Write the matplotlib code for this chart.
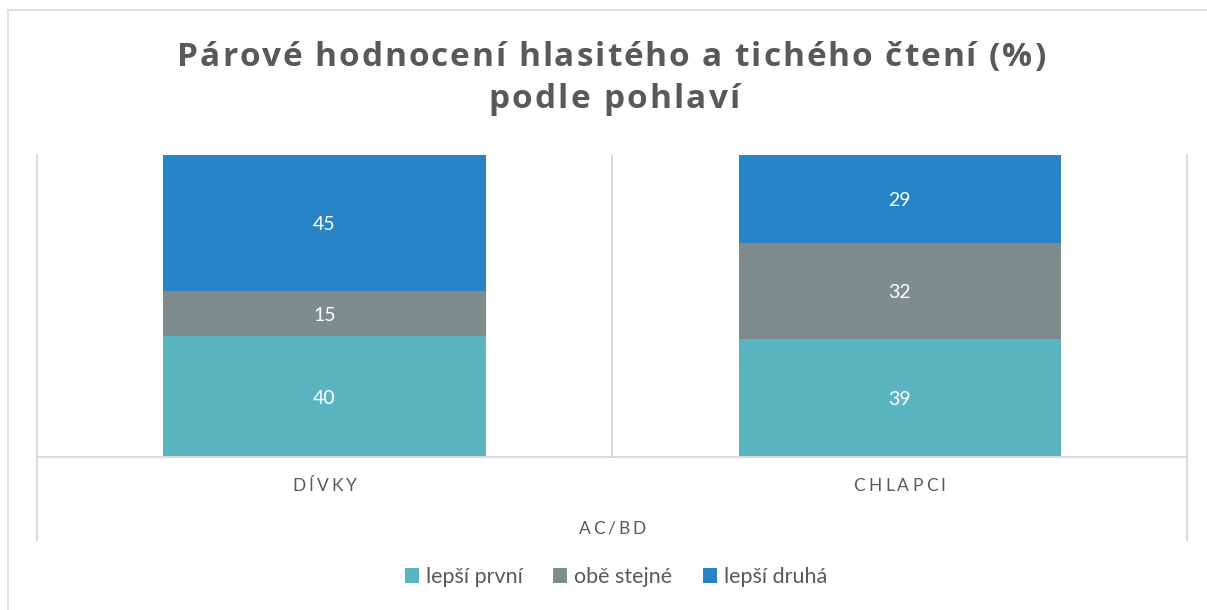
import matplotlib
matplotlib.use('Agg')
import matplotlib.pyplot as plt
from matplotlib.font_manager import FontProperties, findfont, get_font
from matplotlib.patches import Patch
from matplotlib.lines import Line2D

W, H, DPI = 1207, 610, 100

# ---- data ----
categories = ['DÍVKY', 'CHLAPCI']
series_names = ['lepší první', 'obě stejné', 'lepší druhá']
lepsi_prvni = [40, 39]
obe_stejne = [15, 32]
lepsi_druha = [45, 29]
axis_title = 'AC/BD'
title_lines = ['Párové hodnocení hlasitého a tichého čtení (%)', 'podle pohlaví']

colors = ['#5BB5C0', '#7F8C8D', '#2683C6']
TXT = '#595959'
GRID = '#D9D9D9'
FAM = ['Lato', 'DejaVu Sans']

plt.rcParams['font.family'] = FAM

fig = plt.figure(figsize=(W / DPI, H / DPI), dpi=DPI)

# outer chart border (right/bottom edges fall outside the picture)
fig.add_artist(Line2D([8 / W, 1.01], [1 - 10 / H, 1 - 10 / H], transform=fig.transFigure, color=GRID, lw=1.2))
fig.add_artist(Line2D([8 / W, 8 / W], [1 - 10 / H, -0.01], transform=fig.transFigure, color=GRID, lw=1.2))

L, R, T, B = 37, 1187, 155, 457
ax = fig.add_axes([L / W, 1 - B / H, (R - L) / W, (B - T) / H])
x = list(range(len(categories)))
bw = 0.56
bottoms = [0] * len(categories)
for vals, name, col in zip([lepsi_prvni, obe_stejne, lepsi_druha], series_names, colors):
    ax.bar(x, vals, bw, bottom=bottoms, color=col, label=name, linewidth=0, zorder=3)
    for xi, b, v in zip(x, bottoms, vals):
        ax.text(xi, b + v / 2, f'{v}', ha='center', va='center_baseline', color='white',
                fontsize=14, family=FAM, zorder=5)
    bottoms = [b + v for b, v in zip(bottoms, vals)]

ax.set_xlim(-0.5, len(categories) - 0.5)
ax.set_ylim(0, 100)
ax.axis('off')

# grid / category separators
ext = -(540 - B) / (B - T)
for xi in [-0.5, len(categories) - 0.5]:
    ax.plot([xi, xi], [ext, 1], transform=ax.get_xaxis_transform(), color=GRID, lw=1.4, clip_on=False, zorder=1)
for k in range(1, len(categories)):
    ax.plot([k - 0.5, k - 0.5], [0, 1], transform=ax.get_xaxis_transform(), color=GRID, lw=1.4, clip_on=False, zorder=1)
ax.plot([-0.5, len(categories) - 0.5], [0, 0], color=GRID, lw=1.4, clip_on=False, zorder=4)


def advances(s, prop, fams):
    out = []
    fonts = []
    for fam in fams:
        p = prop.copy()
        p.set_family(fam)
        f = get_font(findfont(p))
        f.set_size(prop.get_size_in_points(), DPI)
        fonts.append(f)
    for ch in s:
        for f in fonts:
            if f.get_char_index(ord(ch)) != 0 or ch == ' ':
                g = f.load_char(ord(ch))
                out.append(g.linearHoriAdvance / 65536)
                break
        else:
            out.append(prop.get_size_in_points() * DPI / 72 * 0.5)
    return out


def spaced_text(cx, base, s, target_w, prop, color, fams):
    adv = advances(s, prop, fams)
    nat = sum(adv)
    n = len(s)
    sp = (target_w - nat) / (n - 1) if n > 1 else 0
    total = nat + sp * (n - 1)
    xx = cx - total / 2
    for ch, a in zip(s, adv):
        if ch != ' ':
            fig.text(xx / W, 1 - base / H, ch, fontproperties=prop, color=color,
                     ha='left', va='baseline', family=fams)
        xx += a + sp


# title
TFAM = ['Open Sans', 'DejaVu Sans']
tprop = FontProperties(family=TFAM, weight='bold', size=24)
spaced_text(611, 66, title_lines[0], 868, tprop, TXT, TFAM)
spaced_text(614, 108, title_lines[1], 252, tprop, TXT, TFAM)

# category labels
cprop = FontProperties(family=FAM, size=12.5)
cat_px = [ax.transData.transform((xi, 0))[0] for xi in x]
cat_w = [64, 92]
for px, lab, w in zip(cat_px, categories, cat_w):
    spaced_text(px, 491, lab, w, cprop, TXT, FAM)
spaced_text(612, 534, axis_title, 67, cprop, TXT, FAM)

# legend
handles = [Patch(facecolor=c, edgecolor='none') for c in colors]
fig.legend(handles, series_names, loc='center', bbox_to_anchor=(616 / W, 1 - 577 / H), ncol=3,
           frameon=False, prop=FontProperties(family=FAM, size=15.5), labelcolor=TXT,
           handlelength=0.65, handleheight=0.65, handletextpad=0.33, columnspacing=1.4)

fig.savefig('out.png', dpi=DPI, facecolor='white')
